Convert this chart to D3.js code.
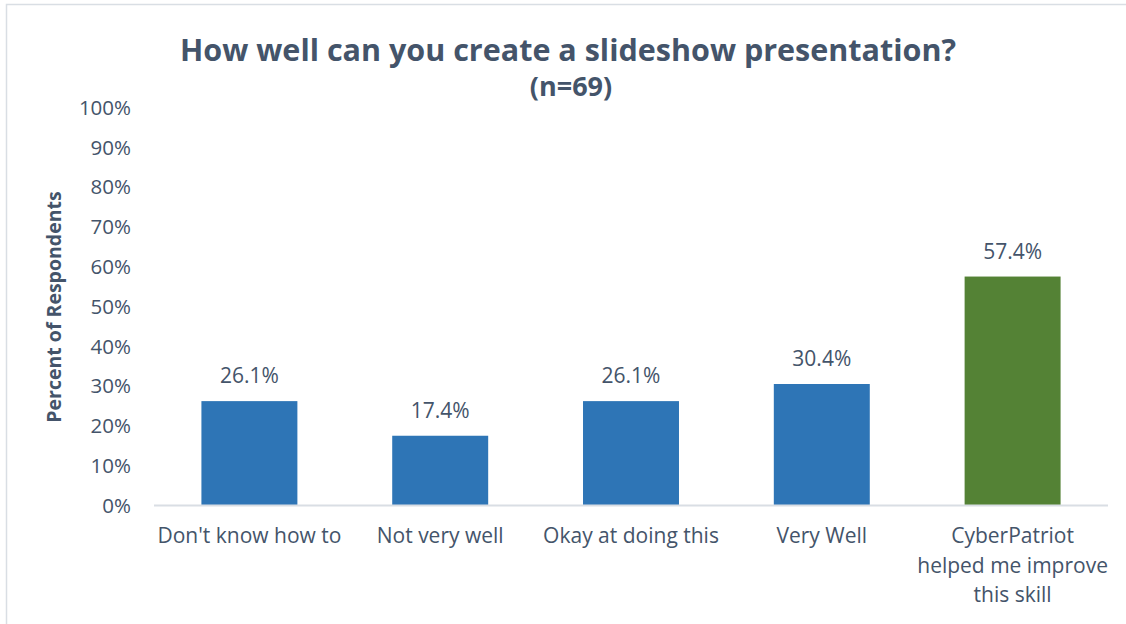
<!DOCTYPE html>
<html>
<head>
<meta charset="utf-8">
<script src="https://cdn.jsdelivr.net/npm/d3@7"></script>
<style>
  html, body { margin: 0; padding: 0; background: #fff; }
  svg { display: block; }
  text { font-family: "Open Sans", "Noto Sans", sans-serif; fill: #44546A; }
</style>
</head>
<body>
<svg id="chart" width="1126" height="624"></svg>
<script>
// Survey responses: share of respondents per answer
const categories = [
  ["Don't know how to"],
  ["Not very well"],
  ["Okay at doing this"],
  ["Very Well"],
  ["CyberPatriot", "helped me improve", "this skill"]
];
const values = [26.1, 17.4, 26.1, 30.4, 57.4];
const barColors = ["#2E75B6", "#2E75B6", "#2E75B6", "#2E75B6", "#548235"];
const yTicks = [0, 10, 20, 30, 40, 50, 60, 70, 80, 90, 100];
const titleText = "How well can you create a slideshow presentation?";
const subtitleText = "(n=69)";
const yAxisTitle = "Percent of Respondents";

const svg = d3.select("#chart");
const W = 1126, H = 624;
const margin = { left: 154, right: 18, top: 107, bottom: 119 };

// chart area frame
svg.append("rect")
  .attr("x", 6.5).attr("y", 4.5)
  .attr("width", W + 10).attr("height", H + 10)
  .attr("fill", "none").attr("stroke", "#D9DEE4").attr("stroke-width", 1.5);

const x = d3.scaleBand()
  .domain(categories.map((d, i) => i))
  .range([margin.left, W - margin.right])
  .paddingInner(0.497).paddingOuter(0.2485);

const y = d3.scaleLinear().domain([0, 100]).range([H - margin.bottom, margin.top]);

// y axis tick labels (no line, no tick marks)
const yAxis = d3.axisLeft(y).tickValues(yTicks).tickFormat(d => d + "%").tickSize(0).tickPadding(0);
const gy = svg.append("g").attr("transform", `translate(${131},0)`).call(yAxis);
gy.select(".domain").remove();
gy.selectAll("text")
  .attr("font-size", 20.5).attr("fill", "#44546A")
  .style("font-family", "'Open Sans', sans-serif")
  .attr("dy", "0.36em");

// bars
svg.append("g").selectAll("rect")
  .data(values)
  .join("rect")
  .attr("x", (d, i) => x(i))
  .attr("width", x.bandwidth())
  .attr("y", d => y(d))
  .attr("height", d => y(0) - y(d))
  .attr("fill", (d, i) => barColors[i]);

// baseline
svg.append("line")
  .attr("x1", margin.left).attr("x2", W - margin.right)
  .attr("y1", y(0) + 0.5).attr("y2", y(0) + 0.5)
  .attr("stroke", "#D9DEE4").attr("stroke-width", 2);

// value labels
svg.append("g").selectAll("text")
  .data(values)
  .join("text")
  .attr("x", (d, i) => x(i) + x.bandwidth() / 2)
  .attr("y", d => y(d) - 18)
  .attr("text-anchor", "middle")
  .attr("font-size", 21)
  .text(d => d.toFixed(1) + "%");

// category labels
const xAxis = d3.axisBottom(x).tickSize(0).tickFormat("");
const gx = svg.append("g").attr("transform", `translate(0,${y(0)})`).call(xAxis);
gx.select(".domain").remove();
gx.selectAll(".tick").each(function(d) {
  const t = d3.select(this).append("text")
    .attr("text-anchor", "middle")
    .attr("font-size", 21)
    .attr("fill", "#44546A");
  categories[d].forEach((line, k) => {
    t.append("tspan").attr("x", 0).attr("y", 38 + k * 29.5).text(line);
  });
});

// titles
svg.append("text")
  .attr("x", 568).attr("y", 61)
  .attr("text-anchor", "middle")
  .attr("font-size", 30.5).attr("font-weight", 700)
  .text(titleText);
svg.append("text")
  .attr("x", 571).attr("y", 96)
  .attr("text-anchor", "middle")
  .attr("font-size", 27).attr("font-weight", 700)
  .text(subtitleText);

svg.append("text")
  .attr("transform", `translate(${61},${307}) rotate(-90)`)
  .attr("text-anchor", "middle")
  .attr("font-size", 19.5).attr("font-weight", 700)
  .text(yAxisTitle);
</script>
</body>
</html>
